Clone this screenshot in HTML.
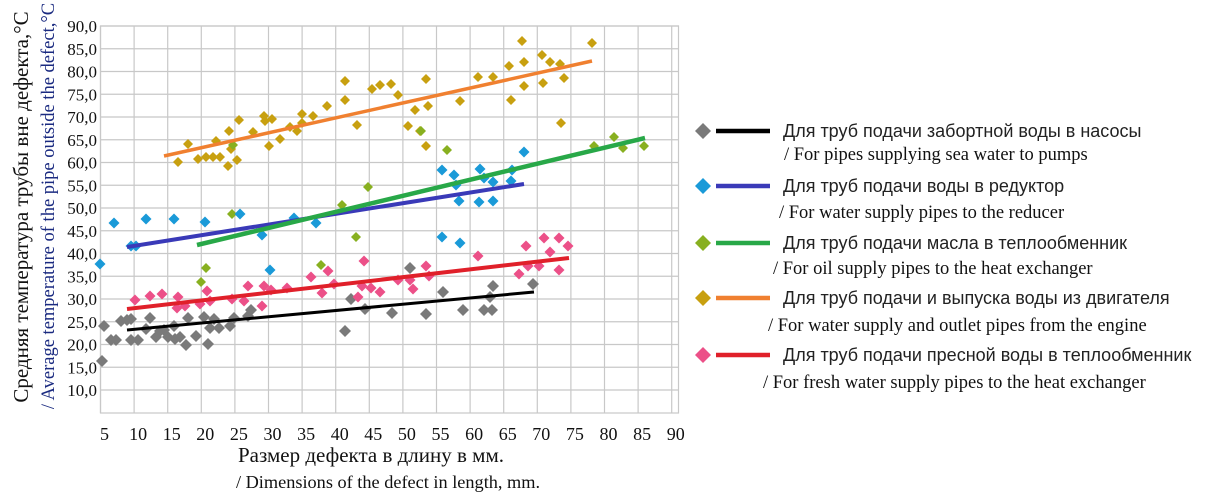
<!DOCTYPE html>
<html><head><meta charset="utf-8"><style>
html,body{margin:0;padding:0;background:#fff;}
svg{display:block}
.t{font-family:"Liberation Serif",serif;font-size:17px;fill:#111}
.s{font-family:"Liberation Sans",sans-serif;font-size:18px;fill:#222}
.e{font-family:"Liberation Serif",serif;font-size:18.5px;fill:#111}
</style></head><body>
<svg id="c" width="1210" height="500" xmlns="http://www.w3.org/2000/svg">
<g id="grid" stroke="#c8c8c8" stroke-width="1.2"></g>
<rect x="100.5" y="26" width="578" height="387" fill="none" stroke="#c8c8c8" stroke-width="1.2"/>
<g id="ylab" class="t" text-anchor="end"></g>
<g id="xlab" class="t" text-anchor="middle" style="font-size:18px"></g>
<g id="pts"></g>
<line x1="127" y1="330" x2="534" y2="292" stroke="#000" stroke-width="3"/>
<line x1="127" y1="309" x2="569" y2="258" stroke="#e0202a" stroke-width="4"/>
<line x1="127" y1="247" x2="524" y2="184" stroke="#3a3ab8" stroke-width="4"/>
<line x1="197" y1="245" x2="645" y2="138" stroke="#28a848" stroke-width="4.5"/>
<line x1="164" y1="156" x2="592" y2="61" stroke="#f08030" stroke-width="3.5"/>
<text class="t" transform="translate(28,207) rotate(-90)" text-anchor="middle" style="font-size:21px">Средняя температура трубы вне дефекта,°С</text>
<text class="t" transform="translate(54,206) rotate(-90)" text-anchor="middle" style="font-size:18.5px;fill:#1a2a80">/ Average temperature of the pipe outside the defect,°С</text>
<text class="t" x="371" y="462" text-anchor="middle" style="font-size:21px">Размер дефекта в длину в мм.</text>
<text class="t" x="388" y="488" text-anchor="middle" style="font-size:18.3px">/ Dimensions of the defect in length, mm.</text>
<g id="leg"></g>
</svg>
<script>
var NS="http://www.w3.org/2000/svg";
function el(p,n,a,txt){var e=document.createElementNS(NS,n);for(var k in a)e.setAttribute(k,a[k]);if(txt)e.textContent=txt;document.getElementById(p).appendChild(e);return e;}
for(var i=0;i<=17;i++){var x=100.5+i*33.6;el("grid","line",{x1:x,y1:26,x2:x,y2:413});el("xlab","text",{x:x+4,y:440},String(5+5*i));}
for(var v=90;v>=10;v-=5){var y=26+(90-v)*4.55;el("grid","line",{x1:100,y1:y,x2:679,y2:y});el("ylab","text",{x:97,y:y+6},v.toFixed(1).replace(".",","));}
function d(c,x,y,r){r=r||5.5;el("pts","polygon",{points:(x)+","+(y-r)+" "+(x+r)+","+y+" "+x+","+(y+r)+" "+(x-r)+","+y,fill:c});}
var gray=[[102,361],[104,326],[111,340],[116,340],[121,321],[127,320],[131,319],[131,340],[138,340],[146,329],[150,318],[156,337],[160,331],[164,330],[168,337],[174,326],[175,339],[180,337],[186,345],[188,318],[196,336],[204,317],[208,344],[210,328],[214,319],[219,328],[230,326],[234,318],[248,316],[251,310],[345,331],[351,299],[365,309],[392,313],[410,268],[426,314],[443,292],[463,310],[484,310],[492,310],[490,297],[493,286],[533,284]];
var gold=[[178,162],[188,144],[198,159],[206,157],[213,157],[216,141],[220,157],[229,131],[231,149],[228,166],[237,160],[239,120],[253,132],[264,116],[265,121],[269,146],[272,119],[280,139],[290,127],[297,131],[302,123],[302,114],[313,116],[327,106],[345,81],[345,100],[357,125],[372,89],[380,85],[391,84],[398,95],[408,126],[415,110],[420,131],[426,79],[428,106],[426,146],[460,101],[478,77],[493,77],[509,66],[511,100],[524,62],[524,86],[542,55],[543,83],[550,62],[560,64],[561,123],[564,78],[592,43],[522,41]];
var green=[[201,282],[206,268],[232,214],[233,145],[321,265],[342,205],[356,237],[368,187],[421,131],[447,150],[594,146],[614,137],[623,148],[644,146]];
var blue=[[100,264],[114,223],[131,246],[136,246],[146,219],[174,219],[205,222],[240,214],[270,270],[262,235],[294,218],[316,223],[442,170],[442,237],[454,175],[456,185],[460,243],[459,201],[479,202],[480,169],[484,178],[493,182],[493,201],[512,170],[511,181],[524,152]];
var pink=[[135,300],[150,296],[162,294],[177,308],[178,297],[185,306],[200,304],[207,291],[210,301],[232,299],[244,301],[248,286],[262,306],[264,286],[271,290],[287,288],[311,277],[322,293],[328,271],[334,284],[358,297],[362,286],[364,261],[371,288],[380,292],[398,280],[410,280],[413,289],[426,266],[429,276],[478,256],[519,274],[526,246],[528,266],[539,266],[544,238],[550,252],[559,238],[559,270],[568,246]];
gray.forEach(p=>d("#7a7a7a",p[0],p[1],6));
gold.forEach(p=>d("#c8a010",p[0],p[1],5));
green.forEach(p=>d("#88b020",p[0],p[1],5));
blue.forEach(p=>d("#1a9ad8",p[0],p[1],5.5));
pink.forEach(p=>d("#ec5088",p[0],p[1],5.5));
var L=[["#7a7a7a","#000","Для труб подачи забортной воды в насосы","/ For pipes supplying sea water to pumps",131,154,784],
["#1a9ad8","#3a3ab8","Для труб подачи воды в редуктор","/ For water supply pipes to the reducer",186,212,779],
["#88b020","#28a848","Для труб подачи масла в теплообменник","/ For oil supply pipes to the heat exchanger",243,268,773],
["#c8a010","#f08030","Для труб подачи и выпуска воды из двигателя","/ For water supply and outlet pipes from the engine",298,325,768],
["#ec5088","#e0202a","Для труб подачи пресной воды в теплообменник","/ For fresh water supply pipes to the heat exchanger",355,382,763]];
L.forEach(function(r){var y=r[4];el("leg","polygon",{points:"703,"+(y-8)+" 711,"+y+" 703,"+(y+8)+" 695,"+y,fill:r[0]});
el("leg","line",{x1:716,y1:y,x2:770,y2:y,stroke:r[1],"stroke-width":4.5});
el("leg","text",{x:783,y:y+6,"class":"s"},r[2]);
el("leg","text",{x:r[6],y:r[5]+6,"class":"e"},r[3]);});
</script>
</body></html>
